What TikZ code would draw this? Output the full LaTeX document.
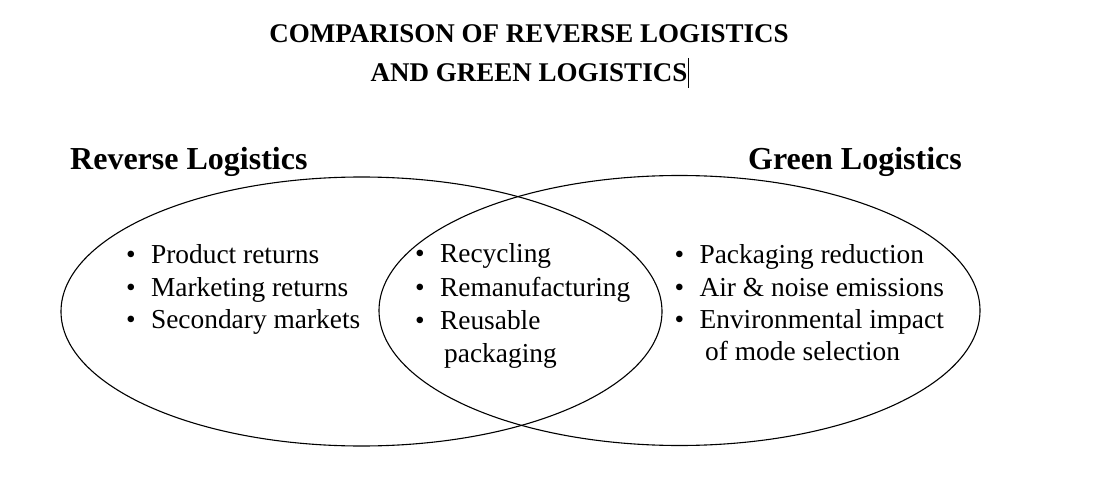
\documentclass[tikz,border=0pt]{standalone}
\usepackage{fontspec}
\setmainfont{Liberation Serif}
\begin{document}
\begin{tikzpicture}[x=1pt,y=-1pt,
  titletext/.style={anchor=base,inner sep=0pt,font=\fontsize{27}{30}\bfseries\selectfont},
  headtext/.style={anchor=base west,inner sep=0pt,font=\fontsize{32}{36}\bfseries\selectfont},
  itemtext/.style={anchor=base west,inner sep=0pt,font=\fontsize{27.4}{33}\selectfont},
  venn/.style={draw=black,line width=1.1pt}]
\useasboundingbox[fill=white] (0,0) rectangle (1095,489);
% title
\node[titletext] (t1) at (529,43) {COMPARISON OF REVERSE LOGISTICS};
\node[titletext] (t2) at (529,82) {AND GREEN LOGISTICS};
\draw[line width=0.8pt] (688,58) -- (688,88);
% circles
\draw[venn] (361.5,311.5) ellipse [x radius=300.5pt, y radius=134.5pt];
\draw[venn] (679.5,310.5) ellipse [x radius=300.5pt, y radius=135pt];
% headings
\node[headtext] (hl) at (70,170) {Reverse Logistics};
\node[headtext] (hr) at (748,170) {Green Logistics};
% left list
\newcommand{\bul}{\textbullet\hspace{15.3pt}}
\node[itemtext] (l1) at (126,263) {\bul Product returns};
\node[itemtext] (l2) at (126,296) {\bul Marketing returns};
\node[itemtext] (l3) at (126,328.5) {\bul Secondary markets};
% middle list
\node[itemtext] (m1) at (415,262.5) {\bul Recycling};
\node[itemtext] (m2) at (415,296) {\bul Remanufacturing};
\node[itemtext] (m3) at (415,329) {\bul Reusable};
\node[itemtext] (m4) at (444,362.5) {packaging};
% right list
\node[itemtext] (r1) at (674.5,263) {\bul Packaging reduction};
\node[itemtext] (r2) at (674.5,296) {\bul Air \& noise emissions};
\node[itemtext] (r3) at (674.5,328.5) {\bul Environmental impact};
\node[itemtext] (r4) at (705,360.5) {of mode selection};
\end{tikzpicture}
\end{document}
